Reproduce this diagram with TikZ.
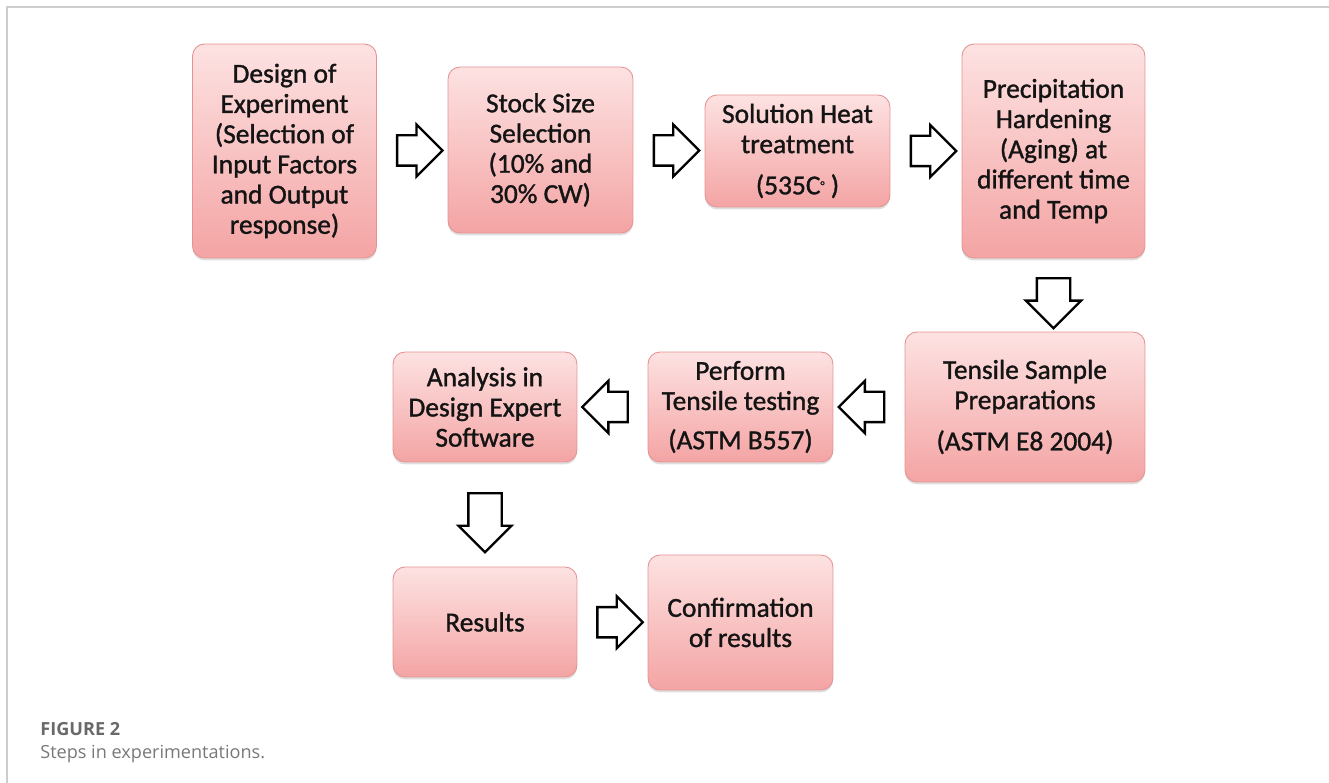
\documentclass[tikz,border=0pt]{standalone}
\usepackage{fontspec}
\setmainfont{Carlito}
\newfontfamily\boxfont{Carlito}[FakeBold=1.2]
\newfontfamily\capfont{Open Sans}
\usetikzlibrary{shapes.arrows,shadows,calc}

\definecolor{boxtop}{RGB}{253,226,226}
\definecolor{boxbot}{RGB}{244,164,164}
\definecolor{boxline}{RGB}{230,146,146}
\definecolor{framegray}{RGB}{205,205,205}
\definecolor{capgray}{RGB}{105,105,105}

\begin{document}
\begin{tikzpicture}[x=0.02cm, y=-0.02cm,
  stepbox/.style={rounded corners=0.24cm, draw=boxline, line width=0.5pt,
    top color=boxtop, bottom color=boxbot, align=center, inner sep=0pt,
    font=\boxfont\fontsize{15.6}{17.2}\selectfont, text=black!92,
    drop shadow={shadow xshift=0pt, shadow yshift=-0.05cm, opacity=0.25}},
  blockarrow/.style={single arrow, draw=black, line width=1.3pt, fill=white,
    inner sep=0.28cm, single arrow head extend=0.22cm, minimum height=0.86cm,
    outer sep=0pt},
  captext/.style={anchor=base west, inner sep=0pt, font=\capfont\fontsize{10.3}{12}\selectfont}
]
\useasboundingbox (0,0) rectangle (1329,783);
\draw[framegray, line width=0.8pt] (7,783) -- (7,7) -- (1329,7);

\node[stepbox, minimum width=3.68cm, minimum height=4.28cm] (design) at (284.5,151)
  {Design of\\Experiment\\(Selection of\\Input Factors\\and Output\\response)};
\node[stepbox, minimum width=3.70cm, minimum height=3.32cm] (stock) at (540.5,150)
  {Stock Size\\Selection\\(10\% and\\30\% CW)};
\node[stepbox, minimum width=3.70cm, minimum height=2.24cm] (solution) at (797.5,151)
  {Solution Heat\\treatment\\[0.22cm](535C\raisebox{0.35ex}{\scriptsize°}\ )};
\node[stepbox, minimum width=3.66cm, minimum height=4.28cm] (precip) at (1053.5,151)
  {Precipitation\\Hardening\\(Aging) at\\different time\\and Temp};

\node[stepbox, minimum width=4.80cm, minimum height=3.00cm] (sample) at (1025,407)
  {Tensile Sample\\Preparations\\[0.22cm](ASTM E8 2004)};
\node[stepbox, minimum width=3.70cm, minimum height=2.20cm] (testing) at (740.5,407)
  {Perform\\Tensile testing\\[0.18cm](ASTM B557)};
\node[stepbox, minimum width=3.68cm, minimum height=2.20cm] (analysis) at (485,407)
  {Analysis in\\Design Expert\\Software};

\node[stepbox, minimum width=3.68cm, minimum height=2.20cm] (results) at (485,622)
  {Results};
\node[stepbox, minimum width=3.70cm, minimum height=2.70cm] (confirm) at (740.5,622.5)
  {Confirmation\\of results};

\node[blockarrow] (a1) at ($(design.east)!0.5!(stock.west)$) {};
\node[blockarrow] (a2) at ($(stock.east)!0.5!(solution.west)$) {};
\node[blockarrow] (a3) at ($(solution.east)!0.5!(precip.west)$) {};
\node[blockarrow, rotate=-90, inner sep=0.31cm, minimum height=0.90cm]
  (a4) at ($(precip.south)!0.5!(precip.south |- sample.north)$) {};
\node[blockarrow, rotate=180] (a5) at ($(sample.west)!0.5!(testing.east)$) {};
\node[blockarrow, rotate=180] (a6) at ($(testing.west)!0.5!(analysis.east)$) {};
\node[blockarrow, rotate=-90, inner sep=0.31cm, single arrow head extend=0.2cm, minimum height=1.18cm]
  (a7) at ($(analysis.south)!0.5!(results.north)$) {};
\node[blockarrow] (a8) at ($(results.east)!0.5!(confirm.west)$) {};

\node[captext, text=capgray] (figlabel) at (40,735) {\bfseries FIGURE 2};
\node[captext, text=capgray!90] (figcap) at (40,758) {Steps in experimentations.};
\end{tikzpicture}
\end{document}
